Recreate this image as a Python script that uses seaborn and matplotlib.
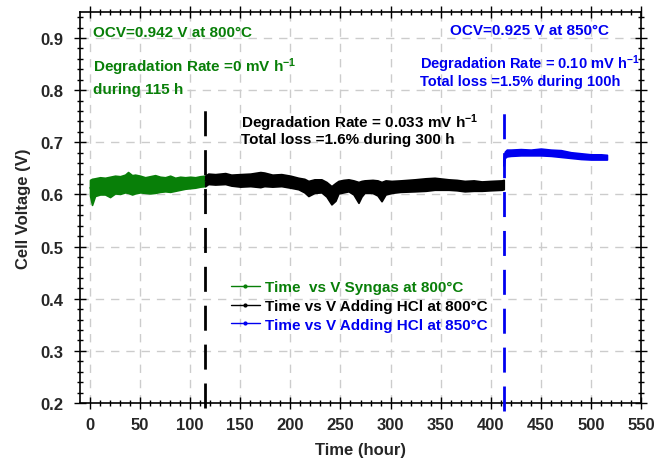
import matplotlib
matplotlib.use("Agg")
import matplotlib.pyplot as plt
from matplotlib.lines import Line2D
import numpy as np
import pandas as pd
import seaborn as sns

# --- measured cell voltage traces (upper / lower edge of the noisy signal) ---
syngas_t = [0, 2, 5, 10, 15, 20, 25, 30, 35, 38, 42, 45, 50, 55, 60, 65, 70,
            75, 80, 85, 90, 95, 100, 105, 110, 115]
syngas_hi = [0.628, 0.630, 0.631, 0.633, 0.632, 0.634, 0.636, 0.635, 0.638,
             0.643, 0.637, 0.638, 0.636, 0.633, 0.635, 0.637, 0.634, 0.633,
             0.636, 0.632, 0.634, 0.633, 0.634, 0.633, 0.635, 0.636]
syngas_lo = [0.598, 0.580, 0.597, 0.600, 0.600, 0.595, 0.602, 0.601, 0.604,
             0.603, 0.600, 0.602, 0.604, 0.603, 0.602, 0.603, 0.605, 0.606,
             0.605, 0.607, 0.609, 0.611, 0.612, 0.613, 0.615, 0.616]

hcl800_t = [115, 118, 125, 135, 141, 150, 160, 170, 174, 182, 191, 200, 208,
            214, 218, 224, 231, 236, 241, 245, 248, 253, 258, 263, 268, 271,
            274, 282, 287, 291, 295, 301, 310, 324, 335, 344, 358, 366, 374,
            383, 391, 400, 411, 413]
hcl800_hi = [0.636, 0.640, 0.639, 0.641, 0.638, 0.639, 0.640, 0.643, 0.642,
             0.638, 0.639, 0.636, 0.632, 0.630, 0.626, 0.629, 0.629, 0.624,
             0.616, 0.622, 0.626, 0.628, 0.629, 0.627, 0.624, 0.626, 0.627,
             0.628, 0.627, 0.624, 0.627, 0.626, 0.627, 0.629, 0.631, 0.632,
             0.629, 0.628, 0.626, 0.627, 0.625, 0.626, 0.627, 0.628]
hcl800_lo = [0.616, 0.620, 0.619, 0.620, 0.617, 0.615, 0.616, 0.614, 0.616,
             0.615, 0.616, 0.613, 0.610, 0.604, 0.597, 0.603, 0.604, 0.596,
             0.581, 0.588, 0.602, 0.604, 0.606, 0.600, 0.584, 0.596, 0.603,
             0.603, 0.598, 0.587, 0.600, 0.603, 0.605, 0.606, 0.607, 0.609,
             0.609, 0.608, 0.606, 0.607, 0.607, 0.608, 0.609, 0.610]

hcl850_t = [413, 414, 416, 420, 430, 440, 450, 460, 470, 480, 490, 500, 510, 516]
hcl850_hi = [0.668, 0.682, 0.686, 0.686, 0.687, 0.686, 0.688, 0.686, 0.685,
             0.681, 0.679, 0.677, 0.677, 0.676]
hcl850_lo = [0.655, 0.670, 0.673, 0.674, 0.675, 0.675, 0.675, 0.674, 0.672,
             0.670, 0.668, 0.667, 0.667, 0.667]

series_labels = ["Time  vs V Syngas at 800°C",
                 "Time vs V Adding HCl at 800°C",
                 "Time vs V Adding HCl at 850°C"]
switch_times = [115, 413]

GREEN = "#087f08"
BLACK = "#000000"
BLUE = "#0000f0"

frames = []
for lab, t, hi, lo in [(series_labels[0], syngas_t, syngas_hi, syngas_lo),
                       (series_labels[1], hcl800_t, hcl800_hi, hcl800_lo),
                       (series_labels[2], hcl850_t, hcl850_hi, hcl850_lo)]:
    hi_a, lo_a = np.array(hi), np.array(lo)
    frames.append(pd.DataFrame({"time": t, "hi": hi_a, "lo": lo_a,
                                "volt": (hi_a + lo_a) / 2, "series": lab}))
df = pd.concat(frames, ignore_index=True)

sns.set_theme(style="ticks")
plt.rcParams["font.family"] = ["Liberation Sans", "DejaVu Sans"]
plt.rcParams["font.weight"] = "bold"
plt.rcParams["mathtext.fontset"] = "custom"
plt.rcParams["mathtext.rm"] = "Liberation Sans:bold"
plt.rcParams["mathtext.default"] = "rm"

fig = plt.figure(figsize=(6.54, 4.64), dpi=100)
ax = fig.add_axes([80 / 654, 1 - 404 / 464, 561 / 654, 391 / 464])

palette = {series_labels[0]: GREEN, series_labels[1]: BLACK, series_labels[2]: BLUE}

# noisy band for each segment, then the trace itself
for lab, sub in df.groupby("series", sort=False):
    ax.fill_between(sub["time"], sub["lo"], sub["hi"], color=palette[lab],
                    lw=1.2, edgecolor=palette[lab], zorder=3)
sns.lineplot(data=df, x="time", y="volt", hue="series", palette=palette,
             estimator=None, sort=False, lw=1.0, legend=False, ax=ax, zorder=4)

# dashed markers where the operating condition changes
ax.plot([switch_times[0]] * 2, [0.19, 0.777], color=BLACK, lw=2,
        dashes=(9, 5), clip_on=False, zorder=5)
ax.plot([switch_times[1]] * 2, [0.185, 0.768], color=BLUE, lw=2,
        dashes=(9, 5), clip_on=False, zorder=5)

ax.set_xlim(-10, 550)
ax.set_ylim(0.2, 0.95)
ax.set_xticks(np.arange(0, 551, 50))
ax.set_yticks(np.arange(0.2, 0.91, 0.1))
ax.set_xticks(np.arange(0, 551, 10), minor=True)
ax.set_yticks(np.arange(0.2, 0.95, 0.02), minor=True)
ax.yaxis.set_major_formatter(matplotlib.ticker.FormatStrFormatter("%.1f"))

ax.grid(True, which="major", color="#cccccc", lw=1.0, ls=(0, (6, 5)), zorder=0)
for s in ax.spines.values():
    s.set_color("black")
    s.set_linewidth(1.2)
ax.tick_params(which="both", direction="inout", top=True, right=True,
               color="black", width=1.0)
ax.tick_params(which="major", length=8)
ax.tick_params(which="minor", length=5)
ax.tick_params(axis="x", which="major", pad=6)
ax.tick_params(axis="y", which="major", pad=8)
tick_font = dict(family=["Liberation Sans Narrow", "Liberation Sans"],
                 weight="bold", size=12)
for lbl in ax.get_xticklabels() + ax.get_yticklabels():
    lbl.set_fontproperties(matplotlib.font_manager.FontProperties(**tick_font))

ax.set_xlabel("Time (hour)", fontdict=tick_font, labelpad=7)
ax.set_ylabel("Cell Voltage (V)", fontdict=tick_font, labelpad=7)

note = dict(fontsize=11, fontweight="bold", va="center", ha="left", zorder=6)
ax.text(3, 0.912, "OCV=0.942 V at 800°C", color=GREEN, **note)
ax.text(3, 0.846, "Degradation Rate =0 mV h$^{-1}$", color=GREEN, **note)
ax.text(3, 0.803, "during 115 h", color=GREEN, **note)
ax.text(359, 0.915, "OCV=0.925 V at 850°C", color=BLUE, **note)
ax.text(329, 0.851, "Degradation Rate = 0.10 mV h$^{-1}$", color=BLUE,
        **{**note, "fontsize": 10.5})
ax.text(329, 0.818, "Total loss =1.5% during 100h", color=BLUE,
        **{**note, "fontsize": 10.5})
ax.text(151, 0.739, "Degradation Rate = 0.033 mV h$^{-1}$", color=BLACK, **note)
ax.text(151, 0.706, "Total loss =1.6% during 300 h", color=BLACK, **note)

handles = [Line2D([0], [0], color=palette[l], lw=1, marker=".", markersize=4)
           for l in series_labels]
leg = ax.legend(handles, series_labels, loc="upper left",
                bbox_to_anchor=(0.255, 0.333), frameon=False, borderpad=0,
                handlelength=1.9, handletextpad=0.35, labelspacing=0.3,
                prop=dict(size=11, weight="bold"))
for txt, l in zip(leg.get_texts(), series_labels):
    txt.set_color(palette[l])

fig.savefig("out.png", dpi=100)
